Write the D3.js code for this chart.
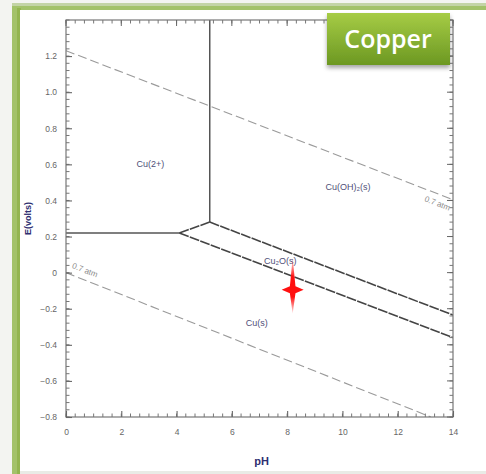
<!DOCTYPE html>
<html>
<head>
<meta charset="utf-8">
<script src="https://cdn.jsdelivr.net/npm/d3@7"></script>
<style>
  html, body { margin: 0; padding: 0; background: #f3f4f1; }
  svg { display: block; }
</style>
</head>
<body>
<svg id="chart" width="486" height="474"></svg>
<script>
// Potential–pH (Pourbaix) diagram for copper in water

const xTicks = [0, 2, 4, 6, 8, 10, 12, 14];
const yTicks = [-0.8, -0.6, -0.4, -0.2, 0, 0.2, 0.4, 0.6, 0.8, 1.0, 1.2];

// Phase boundaries as [pH, E] pairs
const bCu2Vertical = [[5.2, 1.4], [5.2, 0.28]];
const bCu2Cu = [[0, 0.22], [4.1, 0.22]];
const bTriple = [[4.1, 0.22], [5.2, 0.28]];
const bCuOH2Cu2O = [[5.2, 0.28], [14, -0.235]];
const bCu2OCu = [[4.1, 0.22], [14, -0.36]];

// Water stability limits
const waterUpper = [[0, 1.23], [14, 0.404]];
const waterLower = [[0, 0], [13.2, -0.8]];

const regionLabels = ["Cu(2+)", "Cu(OH)\u2082(s)", "Cu\u2082O(s)", "Cu(s)"];
const regionPos = [[3.05, 0.6], [10.2, 0.47], [7.75, 0.06], [6.9, -0.28]];

const waterLabels = ["0.7 atm", "0.7 atm"];
const waterLabelPos = [[13.4, 0.37], [0.65, 0.0]];

const pointPH = [8.2];
const pointE = [-0.095];

const svg = d3.select("#chart");

// slide panel with green border
svg.append("rect").attr("x", 0).attr("y", 0).attr("width", 486).attr("height", 474).attr("fill", "#f3f4f1");
svg.append("rect").attr("x", 12).attr("y", 3).attr("width", 480).attr("height", 480).attr("fill", "#a3c26a");
svg.append("rect").attr("x", 12).attr("y", 3).attr("width", 480).attr("height", 3).attr("fill", "#c3d4a6");
svg.append("rect").attr("x", 17).attr("y", 8).attr("width", 4).attr("height", 470).attr("fill", "#93b550");
svg.append("rect").attr("x", 20).attr("y", 10).attr("width", 470).attr("height", 461).attr("fill", "#ffffff");
svg.append("rect").attr("x", 20).attr("y", 471).attr("width", 470).attr("height", 4).attr("fill", "#e9ebe6");

const pLeft = 66, pRight = 453, pTop = 20, pBottom = 417;
const x = d3.scaleLinear().domain([0, 14]).range([pLeft, pRight]);
const y = d3.scaleLinear().domain([-0.8, 1.4]).range([pBottom, pTop]);

const defs = svg.append("defs");
defs.append("clipPath").attr("id", "plotClip")
  .append("rect").attr("x", pLeft).attr("y", pTop).attr("width", pRight - pLeft).attr("height", pBottom - pTop);

const line = d3.line().x(d => x(d[0])).y(d => y(d[1]));
const plot = svg.append("g").attr("clip-path", "url(#plotClip)");

// water limits
[waterUpper, waterLower].forEach(d => {
  plot.append("path").attr("d", line(d)).attr("fill", "none")
    .attr("stroke", "#9a9a9a").attr("stroke-width", 1.1).attr("stroke-dasharray", "9,4");
});

// phase boundaries
[bCu2Vertical, bCu2Cu].forEach(d => {
  plot.append("path").attr("d", line(d)).attr("fill", "none")
    .attr("stroke", "#555").attr("stroke-width", 1.5);
});
[bTriple, bCuOH2Cu2O, bCu2OCu].forEach(d => {
  plot.append("path").attr("d", line(d)).attr("fill", "none")
    .attr("stroke", "#444").attr("stroke-width", 1.6).attr("stroke-dasharray", "10,1.2");
});

// frame
svg.append("rect").attr("x", pLeft).attr("y", pTop).attr("width", pRight - pLeft).attr("height", pBottom - pTop)
  .attr("fill", "none").attr("stroke", "#777").attr("stroke-width", 1.2);

// axes with inward ticks on all four sides
const xMinor = d3.range(0, 14.001, 1 / 3);
const yMinor = d3.range(-0.8, 1.4001, 0.04);
const tickG = svg.append("g").attr("stroke", "#777").attr("stroke-width", 1);
xMinor.forEach(v => {
  tickG.append("line").attr("x1", x(v)).attr("x2", x(v)).attr("y1", pBottom).attr("y2", pBottom - 3.5);
  tickG.append("line").attr("x1", x(v)).attr("x2", x(v)).attr("y1", pTop).attr("y2", pTop + 3.5);
});
yMinor.forEach(v => {
  tickG.append("line").attr("y1", y(v)).attr("y2", y(v)).attr("x1", pLeft).attr("x2", pLeft + 3.5);
  tickG.append("line").attr("y1", y(v)).attr("y2", y(v)).attr("x1", pRight).attr("x2", pRight - 3.5);
});

const xAxis = d3.axisBottom(x).tickValues(xTicks).tickSizeInner(-6).tickSizeOuter(0).tickPadding(12)
  .tickFormat(d3.format("d"));
const gx = svg.append("g").attr("transform", `translate(0,${pBottom})`).call(xAxis);
const yAxis = d3.axisLeft(y).tickValues(yTicks).tickSizeInner(-6).tickSizeOuter(0).tickPadding(9)
  .tickFormat(d => d === 0 ? "0" : d3.format(".1f")(d));
const gy = svg.append("g").attr("transform", `translate(${pLeft},0)`).call(yAxis);
[gx, gy].forEach(g => {
  g.select(".domain").remove();
  g.selectAll(".tick line").attr("stroke", "#666").attr("stroke-width", 1.1);
  g.selectAll(".tick text").attr("fill", "#666").attr("font-family", "Liberation Sans, Arial, sans-serif")
    .attr("font-size", 8.5);
});
// top and right major ticks
xTicks.forEach(v => tickG.append("line").attr("x1", x(v)).attr("x2", x(v)).attr("y1", pTop).attr("y2", pTop + 6).attr("stroke", "#666"));
yTicks.forEach(v => tickG.append("line").attr("y1", y(v)).attr("y2", y(v)).attr("x1", pRight).attr("x2", pRight - 6).attr("stroke", "#666"));

// axis titles
svg.append("text").attr("x", (pLeft + pRight) / 2 + 2).attr("y", 465).attr("text-anchor", "middle")
  .attr("font-family", "Liberation Sans, Arial, sans-serif").attr("font-size", 11).attr("font-weight", "bold")
  .attr("fill", "#2e2e70").text("pH");
svg.append("text").attr("transform", `translate(31,${y(0.3)}) rotate(-90)`).attr("text-anchor", "middle")
  .attr("font-family", "Liberation Sans, Arial, sans-serif").attr("font-size", 9).attr("font-weight", "bold")
  .attr("fill", "#2e2e70").text("E(volts)");

// region labels
regionLabels.forEach((t, i) => {
  svg.append("text").attr("x", x(regionPos[i][0])).attr("y", y(regionPos[i][1])).attr("text-anchor", "middle")
    .attr("dominant-baseline", "middle").attr("font-family", "Liberation Sans, Arial, sans-serif")
    .attr("font-size", 9).attr("fill", "#4f4f78").text(t);
});

// water-limit labels, rotated along their lines
const angle = Math.atan2(y(waterUpper[1][1]) - y(waterUpper[0][1]), x(waterUpper[1][0]) - x(waterUpper[0][0])) * 180 / Math.PI;
waterLabels.forEach((t, i) => {
  svg.append("text").attr("transform", `translate(${x(waterLabelPos[i][0])},${y(waterLabelPos[i][1])}) rotate(${angle})`)
    .attr("text-anchor", "middle").attr("font-family", "Liberation Sans, Arial, sans-serif")
    .attr("font-size", 8).attr("fill", "#8a8a8a").text(t);
});

// red four-pointed marker
const grad = defs.append("linearGradient").attr("id", "starGrad").attr("x1", 0).attr("x2", 0).attr("y1", 0).attr("y2", 1);
grad.append("stop").attr("offset", "0%").attr("stop-color", "#ff3030").attr("stop-opacity", 0.15);
grad.append("stop").attr("offset", "35%").attr("stop-color", "#ff1010").attr("stop-opacity", 1);
grad.append("stop").attr("offset", "70%").attr("stop-color", "#ff1010").attr("stop-opacity", 1);
grad.append("stop").attr("offset", "100%").attr("stop-color", "#ff3030").attr("stop-opacity", 0.15);
const starPts = [[0, -32], [2.8, -3.5], [11, 0], [2.8, 3.5], [0, 24], [-2.8, 3.5], [-11, 0], [-2.8, -3.5]];
svg.selectAll(".marker").data(pointPH).enter().append("path").attr("class", "marker")
  .attr("transform", (d, i) => `translate(${x(d)},${y(pointE[i])})`)
  .attr("d", d3.line().curve(d3.curveLinearClosed)(starPts))
  .attr("fill", "url(#starGrad)");

// title badge
const shadow = defs.append("filter").attr("id", "badgeShadow").attr("x", "-20%").attr("y", "-20%").attr("width", "140%").attr("height", "160%");
shadow.append("feDropShadow").attr("dx", 0).attr("dy", 3).attr("stdDeviation", 2).attr("flood-color", "#000").attr("flood-opacity", 0.35);
const bg = defs.append("linearGradient").attr("id", "badgeGrad").attr("x1", 0).attr("x2", 0).attr("y1", 0).attr("y2", 1);
bg.append("stop").attr("offset", "0%").attr("stop-color", "#a6cc45");
bg.append("stop").attr("offset", "100%").attr("stop-color", "#6c9822");
svg.append("rect").attr("x", 327).attr("y", 13).attr("width", 123).attr("height", 52)
  .attr("fill", "url(#badgeGrad)").attr("filter", "url(#badgeShadow)");
svg.append("text").attr("x", 388).attr("y", 48).attr("text-anchor", "middle")
  .attr("font-family", "Open Sans, sans-serif").attr("font-weight", 600).attr("font-size", 25)
  .attr("fill", "#ffffff").text("Copper");
</script>
</body>
</html>
